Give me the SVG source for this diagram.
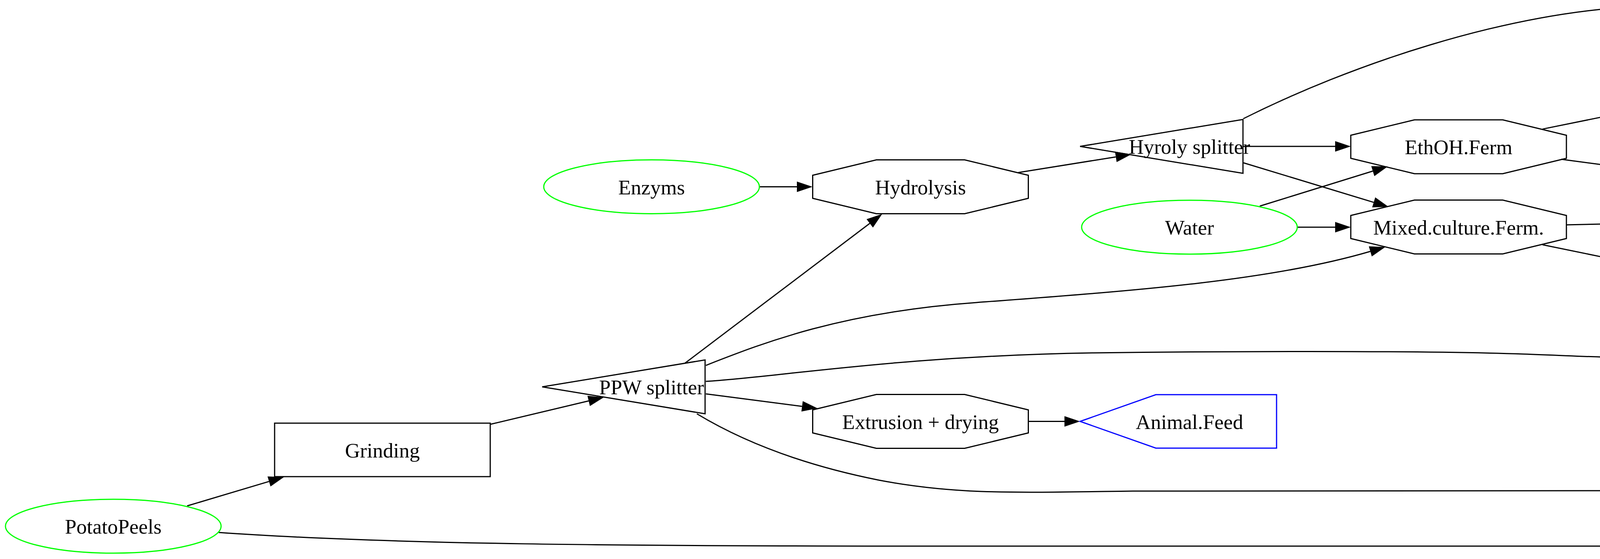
<svg xmlns="http://www.w3.org/2000/svg" xmlns:xlink="http://www.w3.org/1999/xlink" width="7500" height="1432" viewBox="0 0 7500 1432">
<style>
.s{fill:none;stroke:#000;stroke-width:3}
.g{fill:none;stroke:#00ff00;stroke-width:3}
.b{fill:none;stroke:#0000ff;stroke-width:3}
.e{fill:none;stroke:#000;stroke-width:3;marker-end:url(#ah)}
.t{font-family:"Liberation Serif","Times New Roman",serif;font-size:53px;text-anchor:middle;fill:#000}
</style>
<defs>
<marker id="ah" markerUnits="userSpaceOnUse" markerWidth="40" markerHeight="28" viewBox="0 0 40 28" refX="0" refY="14" orient="auto" overflow="visible"><path d="M0,0.5 L40,14 L0,27.5 z" fill="#000"/></marker>
<polygon id="oct" points="276,-29.5 113,-69 -113,-69 -276,-29.5 -276,29.5 -113,69 113,69 276,29.5"/>
<polygon id="oct2" points="292,-42 115,-85 -115,-85 -292,-42 -292,42 -115,85 115,85 292,42"/>
<rect id="box" x="-276" y="-68.5" width="552" height="137"/>
<ellipse id="ell" cx="0" cy="0" rx="276" ry="69"/>
<polygon id="prod" points="-280,0 -86,-68.5 223,-68.5 223,68.5 -86,68.5"/>
<polygon id="tri" points="-280,0 137,-69 137,69"/>
</defs>
<rect width="7500" height="1432" fill="#fff"/>
<g id="edges">
<path class="e" d="M479,1296 L688.7,1233.4"/>
<path class="e" d="M560,1364 C1000,1395 1600,1399 2400,1399 L4600,1399 C4900,1399 5200,1345 5521.4,1301.6"/>
<path class="e" d="M1255,1087 L1507,1027"/>
<path class="e" d="M1754,930 L2226.6,572.2"/>
<path class="e" d="M1807,936 C1950,880 2150,800 2500,775 C2900,745 3250,720 3508,644"/>
<path class="e" d="M1807,977 C2000,965 2300,912 2800,904 C3300,898 3700,900 3900,907 C4100,914 4250,925 4400,910 C4600,890 4750,800 4982.6,646.6"/>
<path class="e" d="M1807,1009 L2053.3,1040.9"/>
<path class="e" d="M1784,1060 C1900,1130 2050,1190 2250,1230 C2450,1268 2600,1262 2900,1258 L5483,1256"/>
<path class="e" d="M1943,478.5 L2040,478.5"/>
<path class="e" d="M2607,442 L2856.5,401.9"/>
<path class="e" d="M3183,375 L3418,375"/>
<path class="e" d="M3183,417 L3516.7,518.4"/>
<path class="e" d="M3183,304 C3450,170 3850,30 4207,16 C4500,6 4680,90 4740,150 C4800,210 4800,290 4860,360 C4900,405 4940,430 4974,457"/>
<path class="e" d="M3225,528 L3514.4,438.3"/>
<path class="e" d="M3320.6,582 L3418,582"/>
<path class="e" d="M3949,330.6 L4107.8,298.4"/>
<path class="e" d="M3996.6,408 L4810.9,515.4"/>
<path class="e" d="M4010,576 L4796,558.9"/>
<path class="e" d="M3949,627 L4107.8,659.6"/>
<path class="e" d="M4699,230 L4792,230"/>
<path class="e" d="M4700,656 L4875.7,610.9"/>
<path class="e" d="M4700,781 L4852.2,808.5"/>
<path class="e" d="M5388,529 L5565.1,515.1"/>
<path class="e" d="M5228,621 C5320,690 5410,760 5450,850 C5490,940 5500,1000 5560,1070 C5590,1105 5630,1135 5666,1162"/>
<path class="e" d="M5938.6,493 L6189,485.2"/>
<path class="e" d="M5940.5,537 L6249,625.6"/>
<path class="e" d="M6077,701.4 L6173,700.8"/>
<path class="e" d="M5388,883 L5484.1,890.1"/>
<path class="e" d="M6077,916 L6189,916.8"/>
<path class="e" d="M6780,475 L6889,475"/>
<path class="e" d="M6780,918 L6889,918.7"/>
<path class="e" d="M6077,1256 L6185,1256"/>
<path class="e" d="M2633,1079.5 L2725,1079.5"/>
</g>
<g id="PotatoPeels"><use href="#ell" class="g" x="290" y="1348"/><text class="t" x="290" y="1367">PotatoPeels</text></g>
<g id="Grinding"><use href="#box" class="s" x="979" y="1152.5"/><text class="t" x="979" y="1171.5">Grinding</text></g>
<g id="PPW_splitter"><use href="#tri" class="s" x="1668" y="991"/><text class="t" x="1668" y="1010">PPW splitter</text></g>
<g id="Enzyms"><use href="#ell" class="g" x="1668" y="478.5"/><text class="t" x="1668" y="497.5">Enzyms</text></g>
<g id="Hydrolysis"><use href="#oct" class="s" x="2356.5" y="478.5"/><text class="t" x="2356.5" y="497.5">Hydrolysis</text></g>
<g id="Extrusion"><use href="#oct" class="s" x="2356.5" y="1079.5"/><text class="t" x="2356.5" y="1098.5">Extrusion + drying</text></g>
<g id="Hyroly_splitter"><use href="#tri" class="s" x="3045" y="375"/><text class="t" x="3045" y="394">Hyroly splitter</text></g>
<g id="Water"><use href="#ell" class="g" x="3045" y="582"/><text class="t" x="3045" y="601">Water</text></g>
<g id="Animal_Feed"><use href="#prod" class="b" x="3045" y="1079.5"/><text class="t" x="3045" y="1098.5">Animal.Feed</text></g>
<g id="EthOH_Ferm"><use href="#oct" class="s" x="3734" y="376"/><text class="t" x="3734" y="395">EthOH.Ferm</text></g>
<g id="Mixed_culture_Ferm"><use href="#oct" class="s" x="3734" y="581.5"/><text class="t" x="3734" y="600.5">Mixed.culture.Ferm.</text></g>
<g id="Distillation_EOH"><use href="#box" class="s" x="4423" y="230"/><text class="t" x="4423" y="249">Distillation.EOH</text></g>
<g id="Pastur_Decant"><use href="#box" class="s" x="4423" y="727"/><text class="t" x="4423" y="746">Pastur.Decant</text></g>
<g id="Ethanol"><use href="#prod" class="b" x="5112" y="230"/><text class="t" x="5112" y="249">Ethanol</text></g>
<g id="Anaerobic_Digest"><use href="#oct" class="s" x="5112" y="551.5"/><text class="t" x="5112" y="570.5">Anaerobic Digest.</text></g>
<g id="MP_Ferm"><use href="#oct" class="s" x="5112" y="861.5"/><text class="t" x="5112" y="880.5">MP.Ferm.</text></g>
<g id="Gas_splitter"><use href="#tri" class="s" x="5801" y="498"/><text class="t" x="5801" y="517">Gas splitter</text></g>
<g id="Air"><use href="#ell" class="g" x="5801" y="704"/><text class="t" x="5801" y="723">Air</text></g>
<g id="Dewater_Prot"><use href="#box" class="s" x="5801" y="915"/><text class="t" x="5801" y="934">Dewater.Prot</text></g>
<g id="Composting"><use href="#oct" class="s" x="5801" y="1255.5"/><text class="t" x="5801" y="1274.5">Composting</text></g>
<g id="BioGas_Upg"><use href="#box" class="s" x="6504.5" y="474.5"/><text class="t" x="6504.5" y="493.5">BioGas.Upg.</text></g>
<g id="CHP"><use href="#oct" class="s" x="6504.5" y="696.5"/><use href="#oct2" class="s" x="6504.5" y="696.5"/><text class="t" x="6504.5" y="715.5">CHP</text></g>
<g id="Spray_Dry_MP"><use href="#box" class="s" x="6504.5" y="918.5"/><text class="t" x="6504.5" y="937.5">Spray.Dry.MP</text></g>
<g id="Compost"><use href="#prod" class="b" x="6505" y="1255.5"/><text class="t" x="6505" y="1274.5">Compost</text></g>
<g id="BioMethane"><use href="#prod" class="b" x="7208" y="474.5"/><text class="t" x="7208" y="493.5">BioMethane</text></g>
<g id="Micro_Prot"><use href="#prod" class="b" x="7208" y="918.5"/><text class="t" x="7208" y="937.5">Micro.Prot.</text></g>
</svg>
